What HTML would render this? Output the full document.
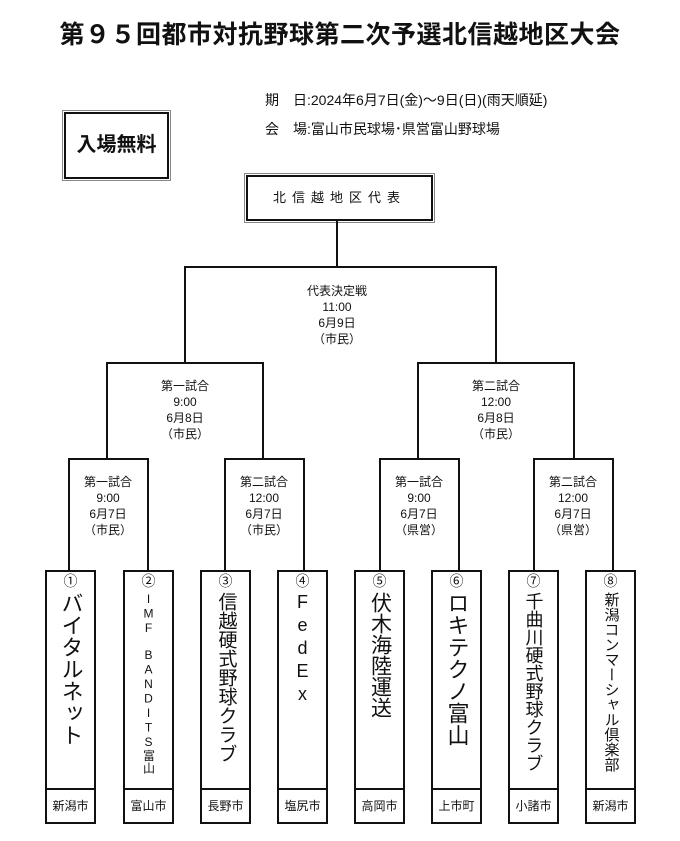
<!DOCTYPE html>
<html><head><meta charset="utf-8"><style>
body{margin:0;background:#fff;}
#c{position:relative;width:680px;height:841px;overflow:hidden;font-family:"Liberation Sans","Noto Sans CJK JP",sans-serif;color:#111;}
.a{position:absolute;}
.l{position:absolute;background:#111;}
.lab{position:absolute;text-align:center;font-size:12px;line-height:16px;width:100px;}
.team{position:absolute;top:570px;width:47px;height:250px;border:2px solid #111;}
.team .n{position:absolute;top:1px;left:0;width:100%;text-align:center;font-size:14px;line-height:16px;}
.team .nm{position:absolute;top:20px;left:0;width:100%;display:flex;justify-content:center;}
.team .nm span{writing-mode:vertical-rl;text-orientation:upright;white-space:nowrap;}
.team .city{position:absolute;bottom:0;left:0;width:100%;height:32px;border-top:2px solid #111;text-align:center;font-size:12px;line-height:32px;background:#fff;}
</style></head><body><div id="c">
<div class="a" style="left:0;width:680px;top:18px;text-align:center;font-size:25px;font-weight:bold;line-height:34px;letter-spacing:0.5px;">第９５回都市対抗野球第二次予選北信越地区大会</div>
<div class="a" style="left:265px;top:90px;font-size:14px;line-height:20px;">期　日:2024年6月7日(金)～9日(日)(雨天順延)</div>
<div class="a" style="left:265px;top:119px;font-size:14px;line-height:20px;">会　場:富山市民球場･県営富山野球場</div>
<div class="a" style="left:64px;top:112px;width:101px;height:63px;border:2px solid #111;outline:1px solid #888;outline-offset:1px;text-align:center;line-height:63px;font-size:20px;font-weight:bold;">入場無料</div>
<div class="a" style="left:246px;top:175px;width:183px;height:42px;border:2px solid #111;outline:1px solid #888;outline-offset:1px;text-align:center;line-height:42px;font-size:13px;letter-spacing:6px;">北信越地区代表</div>
<div class="l" style="left:336px;top:220px;width:2px;height:47px"></div>
<div class="l" style="left:184px;top:266px;width:313px;height:2px"></div>
<div class="l" style="left:184px;top:266px;width:2px;height:97px"></div>
<div class="l" style="left:495px;top:266px;width:2px;height:97px"></div>
<div class="lab" style="left:287px;top:283px;">代表決定戦<br>11:00<br>6月9日<br>（市民）</div>
<div class="l" style="left:106px;top:362px;width:158px;height:2px"></div>
<div class="l" style="left:417px;top:362px;width:158px;height:2px"></div>
<div class="l" style="left:106px;top:362px;width:2px;height:97px"></div>
<div class="l" style="left:262px;top:362px;width:2px;height:97px"></div>
<div class="l" style="left:417px;top:362px;width:2px;height:97px"></div>
<div class="l" style="left:573px;top:362px;width:2px;height:97px"></div>
<div class="lab" style="left:135px;top:378px;">第一試合<br>9:00<br>6月8日<br>（市民）</div>
<div class="lab" style="left:446px;top:378px;">第二試合<br>12:00<br>6月8日<br>（市民）</div>
<div class="l" style="left:68px;top:458px;width:81px;height:2px"></div>
<div class="l" style="left:224px;top:458px;width:81px;height:2px"></div>
<div class="l" style="left:379px;top:458px;width:81px;height:2px"></div>
<div class="l" style="left:533px;top:458px;width:81px;height:2px"></div>
<div class="l" style="left:68px;top:458px;width:2px;height:112px"></div>
<div class="l" style="left:147px;top:458px;width:2px;height:112px"></div>
<div class="l" style="left:224px;top:458px;width:2px;height:112px"></div>
<div class="l" style="left:303px;top:458px;width:2px;height:112px"></div>
<div class="l" style="left:379px;top:458px;width:2px;height:112px"></div>
<div class="l" style="left:458px;top:458px;width:2px;height:112px"></div>
<div class="l" style="left:533px;top:458px;width:2px;height:112px"></div>
<div class="l" style="left:612px;top:458px;width:2px;height:112px"></div>
<div class="lab" style="left:58px;top:474px;">第一試合<br>9:00<br>6月7日<br>（市民）</div>
<div class="lab" style="left:214px;top:474px;">第二試合<br>12:00<br>6月7日<br>（市民）</div>
<div class="lab" style="left:369px;top:474px;">第一試合<br>9:00<br>6月7日<br>（県営）</div>
<div class="lab" style="left:523px;top:474px;">第二試合<br>12:00<br>6月7日<br>（県営）</div>

<div class="team" style="left:45px"><div class="n">①</div><div class="nm"><span style="font-size:22px;line-height:26px;">バイタルネット</span></div><div class="city">新潟市</div></div>
<div class="team" style="left:123px"><div class="n">②</div><div class="nm"><span style="font-size:12px;line-height:16px;letter-spacing:0.5px">IMF　BANDITS富山</span></div><div class="city">富山市</div></div>
<div class="team" style="left:200px"><div class="n">③</div><div class="nm"><span style="font-size:19px;line-height:24px;">信越硬式野球クラブ</span></div><div class="city">長野市</div></div>
<div class="team" style="left:277px"><div class="n">④</div><div class="nm"><span style="font-size:18px;line-height:24px;letter-spacing:3px">FedEx</span></div><div class="city">塩尻市</div></div>
<div class="team" style="left:354px"><div class="n">⑤</div><div class="nm"><span style="font-size:21px;line-height:24px;">伏木海陸運送</span></div><div class="city">高岡市</div></div>
<div class="team" style="left:431px"><div class="n">⑥</div><div class="nm"><span style="font-size:22px;line-height:26px;">ロキテクノ富山</span></div><div class="city">上市町</div></div>
<div class="team" style="left:508px"><div class="n">⑦</div><div class="nm"><span style="font-size:18px;line-height:24px;">千曲川硬式野球クラブ</span></div><div class="city">小諸市</div></div>
<div class="team" style="left:585px"><div class="n">⑧</div><div class="nm"><span style="font-size:15px;line-height:20px;">新潟コンマーシャル倶楽部</span></div><div class="city">新潟市</div></div>
</div></body></html>
